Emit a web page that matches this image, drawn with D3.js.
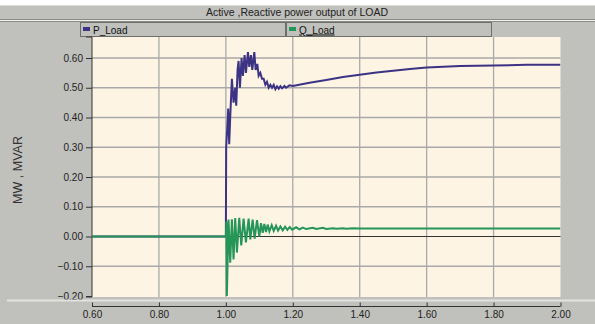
<!DOCTYPE html>
<html>
<head>
<meta charset="utf-8">
<script src="https://cdn.jsdelivr.net/npm/d3@7"></script>
<style>
  body { margin: 0; background: #fff; }
  svg { display: block; font-family: "Liberation Sans", Arial, sans-serif; }
</style>
</head>
<body>
<div id="chart"></div>
<script>
// Datos (tiempo en s, potencia en MW / MVAR)
const seriesNames = ["P_Load", "Q_Load"];

const tP = [0.60, 1.000, 1.001, 1.004, 1.007, 1.010, 1.013, 1.018, 1.023, 1.028, 1.031, 1.035,
  1.038, 1.042, 1.047, 1.051, 1.056, 1.060, 1.066, 1.070, 1.075, 1.079, 1.085, 1.089, 1.094,
  1.098, 1.103, 1.108, 1.113, 1.118, 1.123, 1.128, 1.133, 1.138, 1.143, 1.148, 1.153, 1.158,
  1.163, 1.168, 1.175, 1.180, 1.190, 1.200, 1.25, 1.30, 1.35, 1.40, 1.45, 1.50, 1.55, 1.60,
  1.65, 1.70, 1.80, 1.90, 2.00];
const pLoad = [0, 0, 0.30, 0.36, 0.43, 0.31, 0.40, 0.53, 0.45, 0.50, 0.44, 0.56,
  0.59, 0.50, 0.60, 0.54, 0.61, 0.55, 0.62, 0.57, 0.61, 0.56, 0.62, 0.56, 0.58,
  0.54, 0.55, 0.53, 0.53, 0.51, 0.52, 0.50, 0.51, 0.50, 0.51, 0.495, 0.505, 0.497,
  0.505, 0.498, 0.506, 0.500, 0.508, 0.506, 0.517, 0.526, 0.536, 0.544, 0.551, 0.557, 0.563, 0.568,
  0.571, 0.573, 0.575, 0.577, 0.577];

const tQ = [0.60, 1.000, 1.0015, 1.003, 1.008, 1.013, 1.018, 1.023, 1.028, 1.033, 1.040, 1.046,
  1.053, 1.060, 1.068, 1.073, 1.080, 1.086, 1.093, 1.100, 1.105, 1.110, 1.115, 1.120, 1.125,
  1.130, 1.137, 1.143, 1.150, 1.156, 1.163, 1.170, 1.177, 1.184, 1.191, 1.198, 1.21, 1.22,
  1.23, 1.24, 1.26, 1.27, 1.29, 1.30, 1.32, 1.33, 1.35, 1.36, 1.38, 1.40, 2.00];
const qLoad = [0, 0, 0.05, -0.20, 0.057, -0.088, 0.058, -0.077, 0.062, -0.054, 0.063, -0.030,
  0.060, -0.020, 0.060, -0.010, 0.057, -0.007, 0.055, 0.000, 0.045, 0.012, 0.042, 0.015, 0.040,
  0.017, 0.038, 0.019, 0.036, 0.020, 0.034, 0.021, 0.033, 0.022, 0.032, 0.023, 0.031, 0.024,
  0.030, 0.025, 0.029, 0.025, 0.029, 0.025, 0.028, 0.026, 0.028, 0.026, 0.028, 0.027, 0.027];

const xTicks = [0.60, 0.80, 1.00, 1.20, 1.40, 1.60, 1.80, 2.00];
const yTicks = [-0.20, -0.10, 0.00, 0.10, 0.20, 0.30, 0.40, 0.50, 0.60];

const width = 595, height = 324;
const plot = { left: 92, right: 560.5, top: 37, bottom: 297 };

const svg = d3.select("#chart").append("svg")
  .attr("width", width)
  .attr("height", height);

// fondo gris de la ventana
svg.append("rect").attr("x", 0).attr("y", 5).attr("width", width).attr("height", height - 5)
  .attr("fill", "#c0c0bc");

// barra de titulo
svg.append("line").attr("x1", 0).attr("x2", width).attr("y1", 5.5).attr("y2", 5.5)
  .attr("stroke", "#dcdcd8");
svg.append("line").attr("x1", 0).attr("x2", width).attr("y1", 19.5).attr("y2", 19.5)
  .attr("stroke", "#8a8a88");
svg.append("line").attr("x1", 0).attr("x2", width).attr("y1", 20.5).attr("y2", 20.5)
  .attr("stroke", "#f0f0ee");
svg.append("line").attr("x1", 0).attr("x2", width).attr("y1", 21.5).attr("y2", 21.5)
  .attr("stroke", "#8a8a88");
svg.append("text")
  .attr("x", 297).attr("y", 16)
  .attr("text-anchor", "middle")
  .style("font-size", "10.5px")
  .attr("fill", "#222")
  .text("Active ,Reactive power output of LOAD");

const color = d3.scaleOrdinal().domain(seriesNames).range(["#3c3384", "#259658"]);

// leyenda
const legendBoxes = [{ x: 80, w: 205 }, { x: 286, w: 205 }];
seriesNames.forEach((name, i) => {
  const b = legendBoxes[i];
  const g = svg.append("g").attr("transform", `translate(${b.x}, 22)`);
  g.append("rect").attr("x", 0.5).attr("y", 0.5).attr("width", b.w).attr("height", 14)
    .attr("fill", "#c0c0bc").attr("stroke", "#6e6e6c");
  g.append("rect").attr("x", 3).attr("y", 5).attr("width", 7).attr("height", 4)
    .attr("fill", color(name));
  g.append("text").attr("x", 13).attr("y", 11.5)
    .style("font-size", "10px")
    .attr("fill", "#111")
    .style("text-decoration", i === 1 ? "underline" : null)
    .text(name);
});

const x = d3.scaleLinear().domain([0.6, 2.0]).range([plot.left, plot.right]);
const y = d3.scaleLinear().domain([-0.2, 0.6]).range([296, 58]);

// area del grafico
svg.append("rect")
  .attr("x", plot.left).attr("y", plot.top)
  .attr("width", plot.right - plot.left).attr("height", plot.bottom - plot.top)
  .attr("fill", "#fdf4e4");

svg.append("defs").append("clipPath").attr("id", "clip")
  .append("rect")
  .attr("x", plot.left).attr("y", plot.top)
  .attr("width", plot.right - plot.left).attr("height", plot.bottom - plot.top);

// rejilla
svg.append("g").selectAll("line")
  .data(xTicks.slice(1, -1))
  .enter().append("line")
  .attr("x1", d => x(d)).attr("x2", d => x(d))
  .attr("y1", plot.top).attr("y2", plot.bottom)
  .attr("stroke", "#a9a9a9").attr("stroke-width", 1.3);

svg.append("g").selectAll("line")
  .data(yTicks.filter(d => d > -0.2 && d !== 0))
  .enter().append("line")
  .attr("x1", plot.left).attr("x2", plot.right)
  .attr("y1", d => y(d)).attr("y2", d => y(d))
  .attr("stroke", "#a9a9a9").attr("stroke-width", 1.3);

svg.append("line")
  .attr("x1", plot.left).attr("x2", plot.right)
  .attr("y1", y(0)).attr("y2", y(0))
  .attr("stroke", "#333").attr("stroke-width", 1);

// eje Y
const yAxis = svg.append("g")
  .attr("transform", `translate(${plot.left}, 0)`)
  .call(d3.axisLeft(y).tickValues(yTicks).tickFormat(d3.format(".2f")).tickSize(6).tickPadding(3));
yAxis.select(".domain").attr("d", `M-6,${plot.top}H0V${plot.bottom}H-6`).attr("stroke", "#333");
yAxis.selectAll(".tick line").attr("stroke", "#333");
yAxis.selectAll("text").style("font-size", "10px").attr("fill", "#222")
  .style("font-family", "'Liberation Sans', Arial, sans-serif");

svg.append("text")
  .attr("transform", `translate(22, 170) rotate(-90)`)
  .attr("text-anchor", "middle")
  .style("font-size", "12.5px")
  .attr("fill", "#333")
  .text("MW , MVAR");

// separador inferior y eje X
svg.append("line").attr("x1", 7).attr("x2", width).attr("y1", 300.5).attr("y2", 300.5)
  .attr("stroke", "#e2e2e0").attr("stroke-width", 2);

const xAxis = svg.append("g")
  .attr("transform", "translate(0, 306.5)")
  .call(d3.axisBottom(x).tickValues(xTicks).tickFormat(d3.format(".2f")).tickSize(-4).tickPadding(4));
xAxis.select(".domain").attr("d", `M${plot.left},0H${plot.right}`).attr("stroke", "#333");
xAxis.selectAll(".tick line").attr("stroke", "#333");
xAxis.selectAll("text").style("font-size", "10px").attr("fill", "#222")
  .style("font-family", "'Liberation Sans', Arial, sans-serif");

// series
const line = d3.line().x(d => x(d[0])).y(d => y(d[1]));
const gLines = svg.append("g").attr("clip-path", "url(#clip)");

gLines.append("path")
  .datum(d3.zip(tP, pLoad))
  .attr("d", line)
  .attr("fill", "none")
  .attr("stroke", color("P_Load"))
  .attr("stroke-width", 2);

gLines.append("path")
  .datum(d3.zip(tQ, qLoad))
  .attr("d", line)
  .attr("fill", "none")
  .attr("stroke", color("Q_Load"))
  .attr("stroke-width", 2);
</script>
</body>
</html>
